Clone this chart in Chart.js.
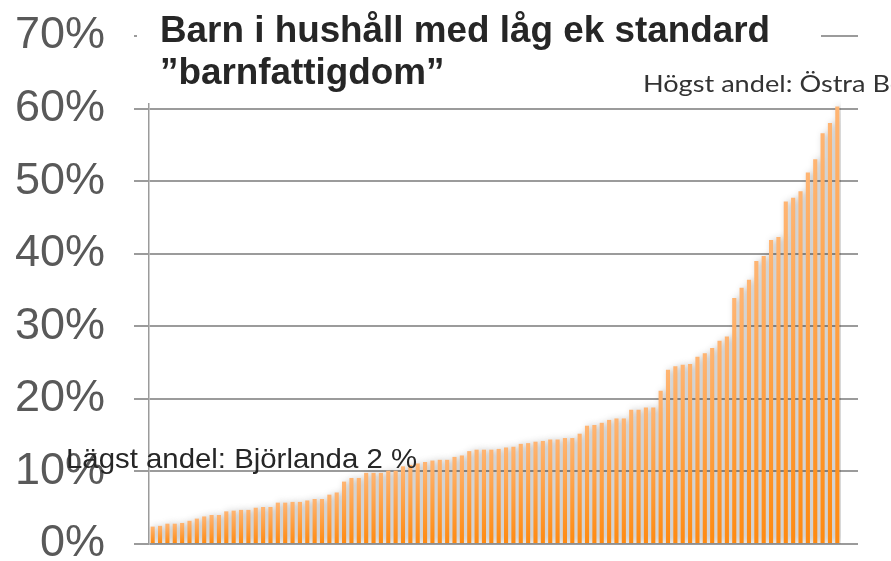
<!DOCTYPE html>
<html>
<head>
<meta charset="utf-8">
<script src="https://cdn.jsdelivr.net/npm/chart.js@4.4.1/dist/chart.umd.min.js"></script>
<style>
  html, body { margin: 0; padding: 0; background: #fff; }
  canvas { display: block; }
</style>
</head>
<body>
<canvas id="myChart" width="891" height="561"></canvas>
<script>
// andel barn i hushåll med låg ekonomisk standard, per område (sorterat)
const shares = [
  2.4, 2.5, 2.8, 2.8, 2.9, 3.2, 3.5, 3.8, 4.0, 4.0,
  4.5, 4.6, 4.7, 4.7, 5.0, 5.1, 5.1, 5.7, 5.7, 5.8,
  5.8, 6.0, 6.2, 6.2, 6.8, 7.1, 8.6, 9.1, 9.1, 9.8,
  9.8, 9.8, 10.1, 10.1, 10.7, 10.9, 11.1, 11.3, 11.5, 11.6,
  11.6, 12.0, 12.2, 12.8, 13.0, 13.0, 13.0, 13.1, 13.3, 13.4,
  13.8, 13.9, 14.1, 14.2, 14.4, 14.4, 14.6, 14.6, 15.2, 16.3,
  16.4, 16.7, 17.1, 17.3, 17.3, 18.5, 18.5, 18.8, 18.8, 21.1,
  24.0, 24.5, 24.7, 24.8, 25.8, 26.3, 27.0, 28.0, 28.6, 33.9,
  35.3, 36.4, 39.0, 39.7, 41.9, 42.3, 47.2, 47.7, 48.6, 51.2,
  53.0, 56.6, 58.0, 60.3
];
const areas = shares.map((v, i) => 'Område ' + (i + 1));
const yTicks = [0, 10, 20, 30, 40, 50, 60, 70];

const titleLines = ['Barn i hushåll med låg ek standard', '\u201dbarnfattigdom\u201d'];
const highNote = 'Högst andel: Östra Bergsjön 60 %';
const lowNote = 'Lägst andel: Björlanda 2 %';

const shadow = {
  id: 'shadow',
  beforeDatasetsDraw(chart) {
    const c = chart.ctx;
    c.save();
    c.shadowColor = 'rgba(0,0,0,0.32)';
    c.shadowBlur = 7;
    c.shadowOffsetX = 3;
    c.shadowOffsetY = 0;
  },
  afterDatasetsDraw(chart) {
    chart.ctx.restore();
  }
};

// draw text stretched horizontally so that `ref` gets width w
function stretchText(c, lines, ref, w, x, ys) {
  const sx = w / c.measureText(ref).width;
  c.save();
  c.translate(x, 0);
  c.scale(sx, 1);
  lines.forEach((t, i) => c.fillText(t, 0, ys[i]));
  c.restore();
}

const texts = {
  id: 'texts',
  afterDraw(chart) {
    const c = chart.ctx;
    c.save();
    // title box hides the top gridline
    c.fillStyle = '#fff';
    c.fillRect(137, 0, 684, 103);

    c.textBaseline = 'alphabetic';
    c.fillStyle = '#262626';
    c.font = 'bold 36px "Liberation Sans", Arial, sans-serif';
    stretchText(c, titleLines, titleLines[0], 610, 160, [42, 84]);

    c.fillStyle = '#333';
    c.font = '24px Lato, "Open Sans", sans-serif';
    stretchText(c, [highNote], 'Högst andel: Östra B', 247, 643, [92]);

    c.fillStyle = '#262626';
    c.font = '28.5px "Liberation Sans", Arial, sans-serif';
    stretchText(c, [lowNote], lowNote, 351, 66, [468]);
    c.restore();
  }
};

const ctx = document.getElementById('myChart');
new Chart(ctx, {
  type: 'bar',
  data: {
    labels: areas,
    datasets: [{
      data: shares,
      backgroundColor: function (context) {
        const chart = context.chart;
        if (!chart.chartArea) return '#ff9a3c';
        const y = chart.scales.y;
        const top = y.getPixelForValue(shares[context.dataIndex]);
        const base = y.getPixelForValue(0);
        const g = chart.ctx.createLinearGradient(0, top, 0, base);
        g.addColorStop(0, '#ffb573');
        g.addColorStop(1, '#ff8a10');
        return g;
      },
      borderWidth: 0,
      categoryPercentage: 1,
      barPercentage: 0.56
    }]
  },
  options: {
    responsive: false,
    animation: false,
    layout: { padding: { top: 36, bottom: 17, left: 0, right: 0 } },
    plugins: {
      legend: { display: false },
      tooltip: { enabled: false }
    },
    scales: {
      x: {
        display: false
      },
      y: {
        min: 0,
        max: 70,
        afterBuildTicks(scale) {
          scale.ticks = yTicks.map(v => ({ value: v }));
        },
        afterFit(scale) {
          scale.width = 149;
          scale.paddingTop = 0;
          scale.paddingBottom = 0;
        },
        ticks: {
          padding: 29,
          color: '#595959',
          font: { family: '"Liberation Sans", Arial, sans-serif', size: 45 },
          callback: v => v + '%'
        },
        grid: {
          color: '#9b9b9b',
          lineWidth: 2,
          tickLength: 15,
          tickColor: '#9b9b9b'
        },
        border: { display: true, color: '#9b9b9b', width: 1.5 }
      },
      y2: {
        position: 'right',
        min: 0,
        max: 70,
        afterBuildTicks(scale) {
          scale.ticks = yTicks.map(v => ({ value: v }));
        },
        afterFit(scale) {
          scale.width = 50;
          scale.paddingTop = 0;
          scale.paddingBottom = 0;
        },
        ticks: { display: false },
        grid: {
          drawOnChartArea: false,
          color: '#9b9b9b',
          lineWidth: 2,
          tickLength: 17
        },
        border: { display: false }
      }
    }
  },
  plugins: [shadow, texts]
});
</script>
</body>
</html>
